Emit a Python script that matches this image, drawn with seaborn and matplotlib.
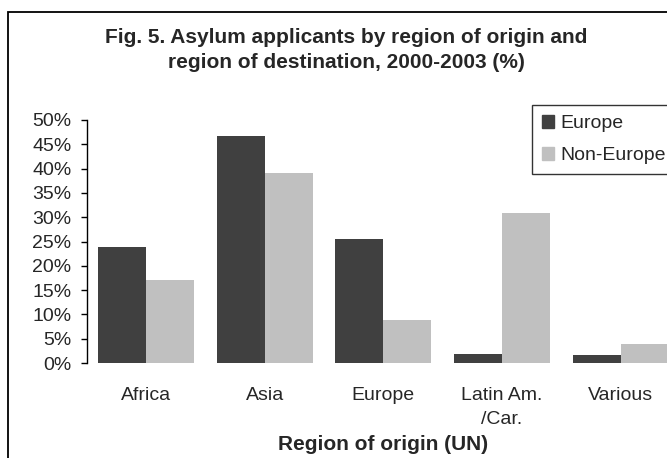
import matplotlib
matplotlib.use("Agg")
import matplotlib.pyplot as plt
import matplotlib.patches as mpatches
from matplotlib.ticker import FuncFormatter
import pandas as pd
import seaborn as sns

# ── data ─────────────────────────────────────────────────────────────────────
regions = ["Africa", "Asia", "Europe", "Latin Am.\n/Car.", "Various"]
destinations = ["Europe", "Non-Europe"]
europe_pct = [23.9, 46.7, 25.5, 1.9, 1.7]
non_europe_pct = [17.1, 39.1, 8.9, 30.9, 3.9]
y_ticks = [0, 5, 10, 15, 20, 25, 30, 35, 40, 45, 50]

PALETTE = {"Europe": "#404040", "Non-Europe": "#C0C0C0"}

df = pd.DataFrame({
    "region": regions * 2,
    "destination": ["Europe"] * len(regions) + ["Non-Europe"] * len(regions),
    "pct": europe_pct + non_europe_pct,
})

sns.set_style("white")
plt.rcParams["font.family"] = ["Liberation Sans", "DejaVu Sans"]

fig = plt.figure(figsize=(6.67, 4.58), dpi=100)
ax = fig.add_axes([0.130, 0.2074, 0.8895, 0.5306])

sns.barplot(
    data=df, x="region", y="pct", hue="destination", hue_order=destinations,
    order=regions, palette=PALETTE, width=0.81, gap=0, saturation=1,
    edgecolor="none", linewidth=0, ax=ax, legend=True,
)

ax.set_xlim(-0.5, len(regions) - 0.5)
ax.set_ylim(0, 50)
ax.set_yticks(y_ticks)
ax.yaxis.set_major_formatter(FuncFormatter(lambda v, _: f"{v:.0f}%"))
ax.tick_params(axis="y", length=4, width=1, color="black", pad=7,
               labelsize=14, left=True, direction="out")
ax.tick_params(axis="x", length=0, pad=17, labelsize=14)
for lab in ax.get_xticklabels():
    lab.set_linespacing(1.6)
ax.set_xlabel("")
ax.set_ylabel("")

for side in ["top", "right", "bottom"]:
    ax.spines[side].set_visible(False)
ax.spines["left"].set_color("black")
ax.spines["left"].set_linewidth(1)

# legend
ax.get_legend().remove()
handles = [mpatches.Patch(color=PALETTE[d], label=d) for d in destinations]
leg = fig.legend(handles=handles, loc="upper left",
                 bbox_to_anchor=(532 / 667, 1 - 105 / 458),
                 fontsize=14, frameon=True, fancybox=False,
                 handlelength=0.65, handleheight=0.65, handletextpad=0.3,
                 labelspacing=0.75, borderpad=0.5, borderaxespad=0)
leg.get_frame().set_edgecolor("black")
leg.get_frame().set_linewidth(1)

# title & axis label
fig.text(346 / 667, 1 - 50 / 458,
         "Fig. 5. Asylum applicants by region of origin and\n"
         "region of destination, 2000-2003 (%)",
         ha="center", va="center", fontsize=15, fontweight="bold",
         linespacing=1.4)
fig.text(383 / 667, 1 - 445 / 458, "Region of origin (UN)",
         ha="center", va="center", fontsize=15, fontweight="bold")

# outer chart frame (cropped on the right and bottom)
frame = mpatches.Rectangle((8 / 667, -0.1), 1.2, 1 - 12 / 458 + 0.1,
                           transform=fig.transFigure, fill=False,
                           edgecolor="black", linewidth=1.3, clip_on=False)
fig.patches.append(frame)

fig.savefig("out.png", dpi=100)
